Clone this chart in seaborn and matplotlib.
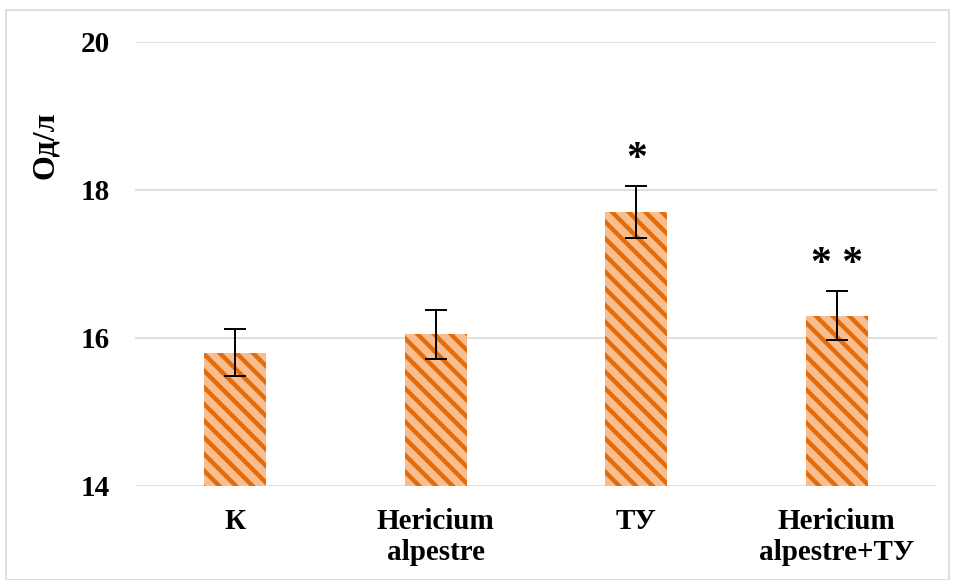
import matplotlib

matplotlib.use("Agg")
import matplotlib.pyplot as plt
import pandas as pd
import seaborn as sns
from matplotlib.patches import Rectangle

# data
categories = ["К", "Hericium\nalpestre", "ТУ", "Hericium\nalpestre+ТУ"]
values = [15.80, 16.05, 17.70, 16.30]
errors = [0.32, 0.33, 0.35, 0.33]
marks = ["", "", "*", "* *"]

LIGHT = "#F9BE8F"
DARK = "#E46C0A"

sns.set_theme(style="white")
plt.rcParams["font.family"] = "serif"
plt.rcParams["font.serif"] = ["Liberation Serif", "DejaVu Serif"]
plt.rcParams["font.weight"] = "bold"
plt.rcParams["text.color"] = "black"
plt.rcParams["axes.labelcolor"] = "black"
plt.rcParams["xtick.color"] = "black"
plt.rcParams["ytick.color"] = "black"
plt.rcParams["hatch.linewidth"] = 3.2
plt.rcParams["hatch.color"] = DARK

df = pd.DataFrame({"group": categories, "value": values})

fig = plt.figure(figsize=(9.55, 5.8), dpi=100)
ax = fig.add_axes([135 / 955, 1 - 486 / 580, 802 / 955, 444 / 580])

sns.barplot(data=df, x="group", y="value", color=LIGHT, width=0.31,
            errorbar=None, ax=ax, saturation=1, zorder=2)
for bar in ax.patches:
    bar.set_facecolor(LIGHT)
    bar.set_edgecolor(DARK)
    bar.set_linewidth(0)
    bar.set_hatch("\\\\")

ax.errorbar(range(len(values)), values, yerr=errors, fmt="none",
            ecolor="black", elinewidth=1.4, capsize=8, capthick=1.4, zorder=3)

for i, (v, e, m) in enumerate(zip(values, errors, marks)):
    if m:
        ax.text(i, v + e + 0.36, m, ha="center", va="center", color="black",
                fontsize=30, fontweight="bold", family="serif")

ax.set_ylim(14, 20)
ax.set_yticks([14, 16, 18, 20])
ax.set_xlim(-0.5, 3.5)
ax.yaxis.grid(True, color="#D9D9D9", linewidth=1.2, zorder=0)
ax.set_axisbelow(True)
for s in ax.spines.values():
    s.set_visible(False)

ax.tick_params(axis="y", length=0, pad=18, labelsize=21, labelcolor="black")
ax.tick_params(axis="x", length=0, pad=16, labelsize=21, labelcolor="black")
for lab in ax.get_xticklabels() + ax.get_yticklabels():
    lab.set_fontweight("bold")
    lab.set_family("serif")
for lab in ax.get_xticklabels():
    lab.set_linespacing(1.2)
ax.set_xlabel("")
ax.set_ylabel("Од/л", fontsize=23, fontweight="bold", family="serif",
              color="black")
ax.yaxis.set_label_coords(-0.0935, 0.768)

fig.patches.append(Rectangle((6 / 955, 0), 1 - 12 / 955, 1 - 10 / 580,
                             transform=fig.transFigure, fill=False,
                             edgecolor="#D9D9D9", linewidth=1.2))

fig.savefig("out.png", dpi=100)
